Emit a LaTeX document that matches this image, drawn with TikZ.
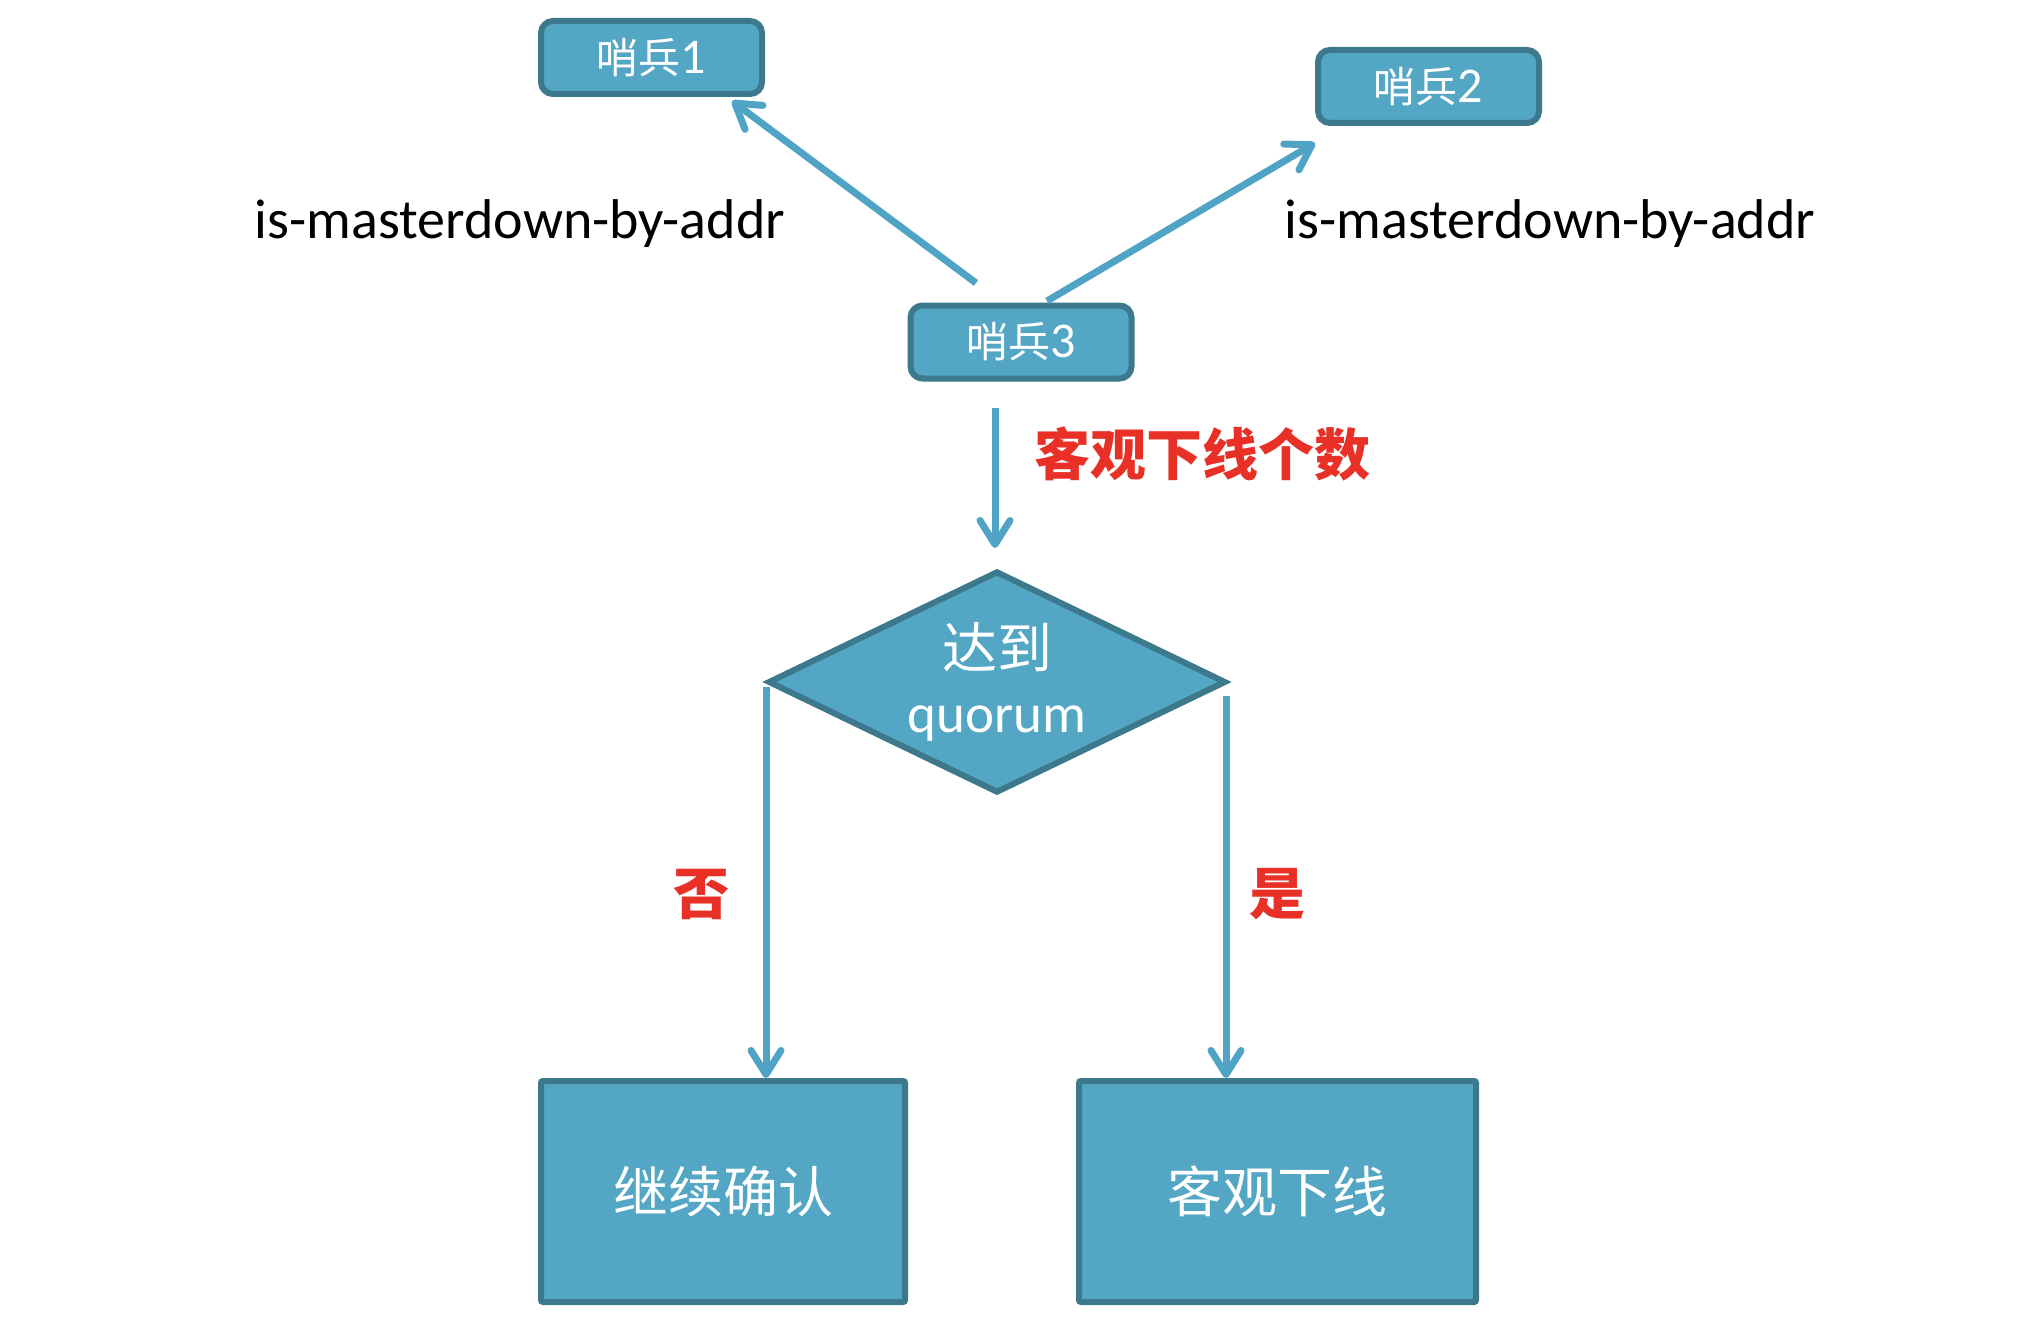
\documentclass[tikz,border=0pt]{standalone}
\usepackage{fontspec}
\setmainfont{Carlito}
\newfontfamily\cjk{Noto Sans CJK SC}
\usetikzlibrary{arrows.meta,shapes.geometric}
\definecolor{boxfill}{RGB}{83,166,196}
\definecolor{boxline}{RGB}{60,121,140}
\definecolor{arrcol}{RGB}{79,163,196}
\definecolor{redtxt}{RGB}{232,48,38}
\newcommand{\dig}[1]{{\fontsize{25pt}{28pt}\selectfont #1}}
\begin{document}
\begin{tikzpicture}[x=0.5pt,y=-0.5pt,
  sbox/.style={draw=boxline, fill=boxfill, line width=3pt, rounded corners=6pt,
    minimum width=110.5pt, minimum height=36.5pt, inner sep=0pt, text=white,
    font=\fontsize{21pt}{24pt}\selectfont},
  bbox/.style={draw=boxline, fill=boxfill, line width=3pt, rounded corners=1pt,
    minimum height=110.5pt, inner sep=0pt, text=white,
    font=\cjk\fontsize{27.5pt}{32pt}\selectfont},
  dec/.style={shape=diamond, aspect=2.06, draw=boxline, fill=boxfill, line width=3pt,
    minimum width=229pt, minimum height=111pt, inner sep=0pt, text=white, align=center,
    font=\fontsize{27.5pt}{32pt}\selectfont},
  arr/.style={draw=arrcol, line width=3.5pt, -{Straight Barb[length=12pt,width=15pt,round]}},
  lbl/.style={font=\fontsize{28pt}{32pt}\selectfont, inner sep=0pt},
  rlbl/.style={text=redtxt, font=\cjk\bfseries\fontsize{28pt}{32pt}\selectfont, inner sep=0pt}]
\useasboundingbox (0,0) rectangle (2032,1332);

\node[sbox] (s1) at (651.5,57.5) {{\cjk 哨兵}\dig{1}};
\node[sbox] (s2) at (1428.5,86.5) {{\cjk 哨兵}\dig{2}};
\node[sbox] (s3) at (1021,342) {{\cjk 哨兵}\dig{3}};
\node[dec] (d) at (997,682) {{\cjk 达到}\\quorum};
\node[bbox, minimum width=182pt] (b1) at (723,1191.5) {继续确认};
\node[bbox, minimum width=198.5pt] (b2) at (1277.5,1191.5) {客观下线};

\node[lbl, anchor=base] (l1) at (520,239) {is-masterdown-by-addr};
\node[lbl, anchor=base] (l2) at (1550,239) {is-masterdown-by-addr};
\node[rlbl, anchor=west] (l3) at (1034,454) {客观下线个数};
\node[rlbl] (no) at (701,894) {否};
\node[rlbl] (yes) at (1277,894) {是};

\coordinate (a1s) at (976,283);
\coordinate (a1e) at (732,101);
\coordinate (a2s) at (1047,301);
\coordinate (a2e) at (1315,143);
\coordinate (a3s) at (995,408);
\coordinate (a3e) at (995,548);
\coordinate (a4s) at (766,687);
\coordinate (a4e) at (a4s |- b1.north);
\coordinate (a5s) at (1226,696);
\coordinate (a5e) at (a5s |- b2.north);

\draw[arr] (a1s) -- (a1e);
\draw[arr] (a2s) -- (a2e);
\draw[arr] (a3s) -- (a3e);
\draw[arr] (a4s) -- (a4e);
\draw[arr] (a5s) -- (a5e);
\end{tikzpicture}
\end{document}
